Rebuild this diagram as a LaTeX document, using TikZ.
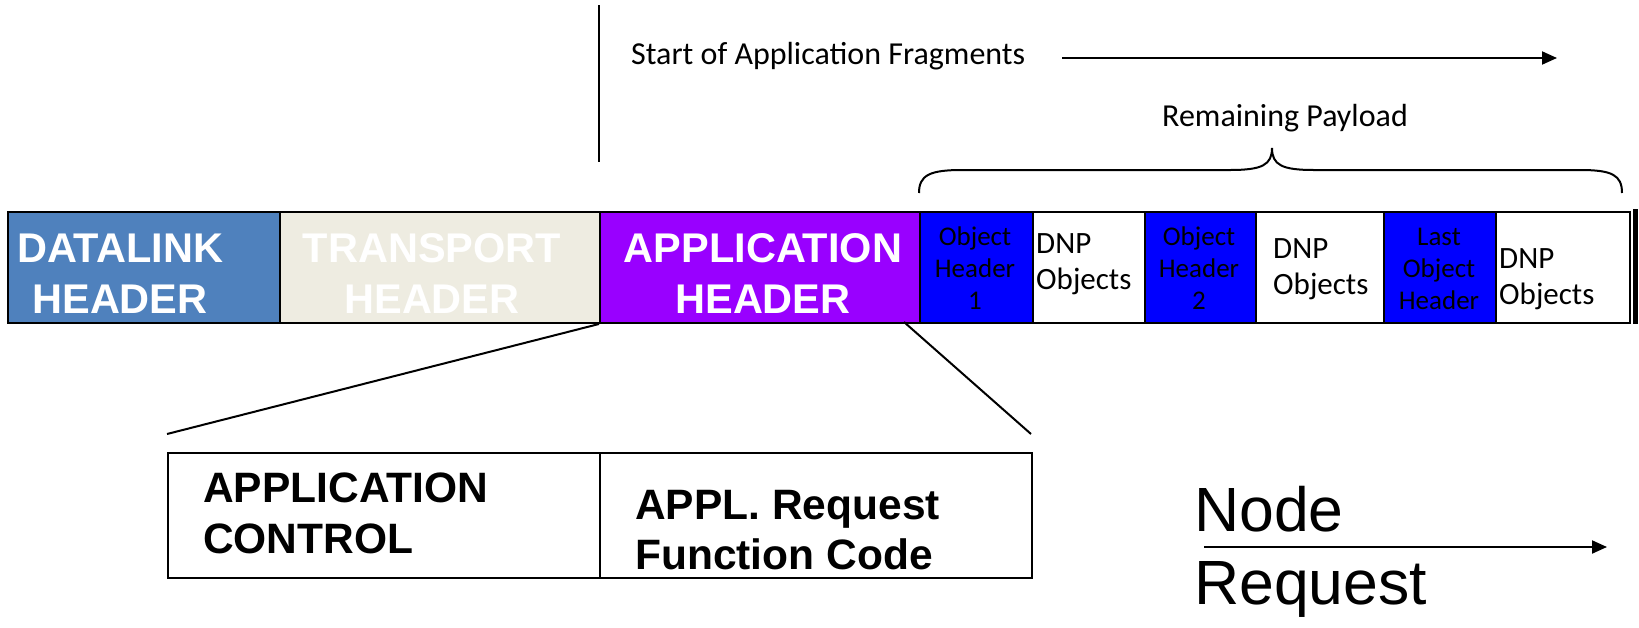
\documentclass[tikz,border=0pt]{standalone}
\usepackage{fontspec}
\setmainfont{Carlito}
\newfontfamily\arialfont{Liberation Sans}
\usetikzlibrary{arrows.meta}
\definecolor{dlblue}{HTML}{4F81BD}
\definecolor{trbeige}{HTML}{EEECE1}
\definecolor{appurple}{HTML}{9900FF}
\definecolor{objblue}{HTML}{0000FF}
\tikzset{
  cell/.style={draw=black, line width=2pt, inner sep=0pt, anchor=north west, minimum height=111pt, minimum width=#1},
  boxcell/.style={draw=black, line width=2pt, inner sep=0pt, anchor=north west, minimum height=125pt, minimum width=#1},
  txt/.style={inner sep=0pt, anchor=base},
  ltxt/.style={inner sep=0pt, anchor=base west},
  hdrfont/.style={font=\arialfont\bfseries\fontsize{41.5}{50}\selectfont, text=white},
  ohfont/.style={font=\fontsize{27}{31}\selectfont},
  dnpfont/.style={font=\fontsize{31}{37}\selectfont},
  lowfont/.style={font=\arialfont\bfseries\fontsize{42.5}{51}\selectfont},
  bigfont/.style={font=\arialfont\fontsize{62.5}{72}\selectfont},
  calfont/.style={font=\fontsize{32}{38}\selectfont},
  conn/.style={line width=2pt},
  arr/.style={line width=2pt, -{Triangle[length=15pt,width=13pt]}}
}
\begin{document}
\begin{tikzpicture}[x=1pt,y=-1pt]
\useasboundingbox (0,0) rectangle (1639,627);

% top annotations
\coordinate (vt) at (599,5);
\coordinate (vb) at (599,162);
\draw[conn] (vt) -- (vb);
\node[ltxt, calfont] (start) at (631,64) {Start of Application Fragments};
\coordinate (a1s) at (1062,58);
\coordinate (a1e) at (1557,58);
\draw[arr] (a1s) -- (a1e);
\node[txt, calfont] (remain) at (1285,126) {Remaining Payload};
\draw[conn] (919,193) .. controls (919,175) and (930,170) .. (962,170)
  -- (1230,170) .. controls (1262,170) and (1272,165) .. (1272,148)
  .. controls (1272,165) and (1282,170) .. (1314,170)
  -- (1580,170) .. controls (1612,170) and (1622,175) .. (1622,193);

% main bar
\node[cell=272pt, fill=dlblue] (dl) at (7,211) {};
\node[cell=320pt, fill=trbeige] (tr) at (279,211) {};
\node[cell=320pt, fill=appurple] (ap) at (599,211) {};
\node[cell=113pt, fill=objblue] (oh1) at (919,211) {};
\node[cell=112pt, fill=white] (dnp1) at (1032,211) {};
\node[cell=111pt, fill=objblue] (oh2) at (1144,211) {};
\node[cell=128pt, fill=white] (dnp2) at (1255,211) {};
\node[cell=112pt, fill=objblue] (oh3) at (1383,211) {};
\node[cell=134pt, fill=white] (dnp3) at (1495,211) {};
\coordinate (endt) at (1635.5,209);
\coordinate (endb) at (1635.5,324);
\draw[line width=5pt] (endt) -- (endb);

\node[txt, hdrfont] (dlt1) at (120,262) {DATALINK};
\node[txt, hdrfont] (dlt2) at (120,313) {HEADER};
\node[txt, hdrfont] (trt1) at (432,262) {TRANSPORT};
\node[txt, hdrfont] (trt2) at (432,313) {HEADER};
\node[txt, hdrfont] (apt1) at (763,262) {APPLICATION};
\node[txt, hdrfont] (apt2) at (763,313) {HEADER};

\node[txt, ohfont] (oh1a) at (975,245) {Object};
\node[txt, ohfont] (oh1b) at (975,277) {Header};
\node[txt, ohfont] (oh1c) at (975,309) {1};
\node[txt, ohfont] (oh2a) at (1199,245) {Object};
\node[txt, ohfont] (oh2b) at (1199,277) {Header};
\node[txt, ohfont] (oh2c) at (1199,309) {2};
\node[txt, ohfont] (oh3a) at (1439,245) {Last};
\node[txt, ohfont] (oh3b) at (1439,277) {Object};
\node[txt, ohfont] (oh3c) at (1439,309) {Header};

\node[ltxt, dnpfont] (d1a) at (1036,253) {DNP};
\node[ltxt, dnpfont] (d1b) at (1036,289) {Objects};
\node[ltxt, dnpfont] (d2a) at (1273,258) {DNP};
\node[ltxt, dnpfont] (d2b) at (1273,294) {Objects};
\node[ltxt, dnpfont] (d3a) at (1499,268) {DNP};
\node[ltxt, dnpfont] (d3b) at (1499,304) {Objects};

% zoom lines
\coordinate (rs) at (904,322);
\coordinate (le) at (167,434);
\coordinate (re) at (1031,434);
\draw[conn] (ap.south west) -- (le);
\draw[conn] (rs) -- (re);

% lower box
\node[boxcell=432pt] (ac) at (167,452) {};
\node[boxcell=432pt] (fc) at (599,452) {};
\node[ltxt, lowfont] (act1) at (203,502) {APPLICATION};
\node[ltxt, lowfont] (act2) at (203,553) {CONTROL};
\node[ltxt, lowfont] (fct1) at (635,519) {APPL. Request};
\node[ltxt, lowfont] (fct2) at (635,569) {Function Code};

% node request
\node[ltxt, bigfont] (nd) at (1194,531) {Node};
\node[ltxt, bigfont] (rq) at (1194,604) {Request};
\coordinate (a2s) at (1204,547);
\coordinate (a2e) at (1607,547);
\draw[arr] (a2s) -- (a2e);
\end{tikzpicture}
\end{document}
